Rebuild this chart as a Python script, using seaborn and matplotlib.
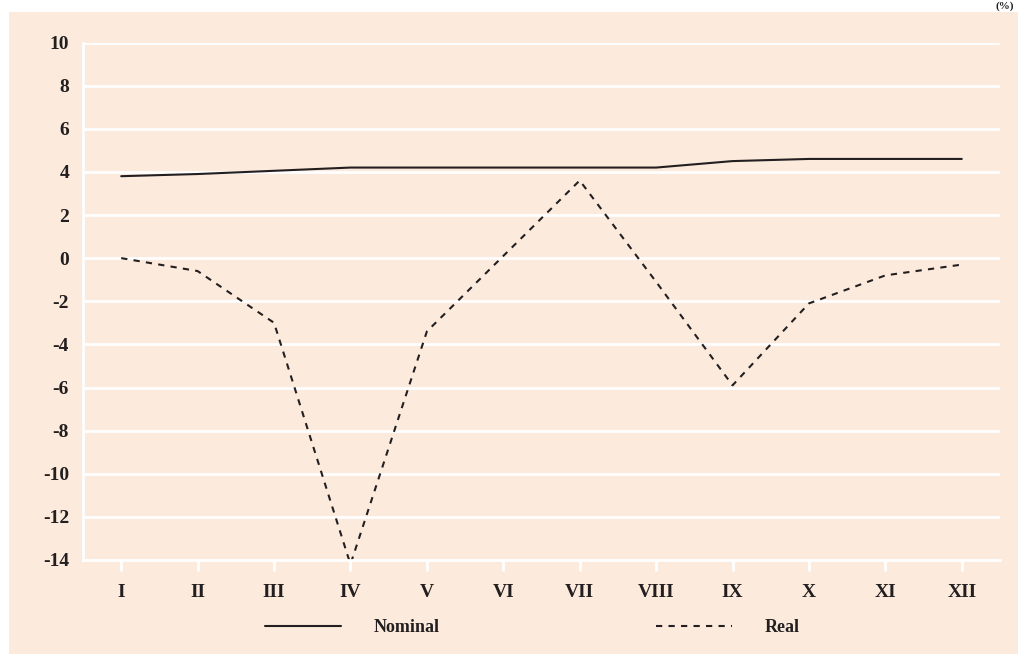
import numpy as np
import pandas as pd
import matplotlib
matplotlib.use("Agg")
import matplotlib.pyplot as plt
from matplotlib.patches import Rectangle
from matplotlib.lines import Line2D
import seaborn as sns

months = ["I", "II", "III", "IV", "V", "VI", "VII", "VIII", "IX", "X", "XI", "XII"]
nominal = [3.8, 3.9, 4.05, 4.2, 4.2, 4.2, 4.2, 4.2, 4.5, 4.6, 4.6, 4.6]
real = [0.0, -0.6, -3.0, -14.2, -3.4, 0.1, 3.6, -1.1, -5.9, -2.1, -0.8, -0.3]
y_ticks = [10, 8, 6, 4, 2, 0, -2, -4, -6, -8, -10, -12, -14]

BG = "#FCEBDD"
INK = "#231F20"

df = pd.DataFrame({
    "pos": list(range(len(months))) * 2,
    "value": nominal + real,
    "series": ["Nominal"] * len(months) + ["Real"] * len(months),
})

sns.set_theme(style="white")
plt.rcParams["font.family"] = ["Liberation Serif", "DejaVu Serif"]
plt.rcParams["font.weight"] = "bold"

fig = plt.figure(figsize=(10.18, 6.54), dpi=100)
fig.patch.set_facecolor("white")
fig.add_artist(Rectangle((9 / 1018, 0), 1 - 9 / 1018, 1 - 12 / 654,
                         transform=fig.transFigure, facecolor=BG,
                         edgecolor="none", zorder=0))

ax = fig.add_axes([83 / 1018, 1 - 560 / 654, (1000 - 83) / 1018, (560 - 42.5) / 654])
ax.set_facecolor(BG)

sns.lineplot(data=df, x="pos", y="value", style="series",
             dashes={"Nominal": "", "Real": (3, 3)},
             color=INK, linewidth=1.5, ax=ax, legend=False)

ax.set_xlim(-0.5, 11.5)
ax.set_ylim(-14, 10)
ax.set_yticks(y_ticks)
ax.set_yticklabels([str(v) for v in y_ticks])
ax.set_xticks(range(len(months)))
ax.set_xticklabels(months)
ax.set_xlabel("")
ax.set_ylabel("")

ax.grid(axis="y", color="white", linewidth=2)
ax.grid(axis="x", visible=False)
ax.set_axisbelow(True)
for side in ["top", "right"]:
    ax.spines[side].set_visible(False)
for side in ["left", "bottom"]:
    ax.spines[side].set_color("white")
    ax.spines[side].set_linewidth(2)

ax.tick_params(axis="x", direction="out", length=8, width=2, color="white",
               pad=9, labelsize=14, labelcolor=INK, bottom=True)
ax.tick_params(axis="y", length=0, pad=10, labelsize=14, labelcolor=INK)
for lab in ax.get_xticklabels() + ax.get_yticklabels():
    lab.set_fontweight("bold")

handles = [
    Line2D([], [], color=INK, linewidth=1.5, linestyle="-"),
    Line2D([], [], color=INK, linewidth=1.5, linestyle=(0, (3, 3))),
]
leg = fig.legend(handles, ["Nominal", "Real"], loc="center",
                 bbox_to_anchor=(532 / 1018, 1 - 628 / 654), ncol=2, frameon=False,
                 handlelength=4.2, handletextpad=1.8, columnspacing=12,
                 prop={"family": "Liberation Serif", "weight": "bold", "size": 13})
for t in leg.get_texts():
    t.set_color(INK)

fig.text(1 - 4 / 1018, 1 - 1 / 654, "(%)", ha="right", va="top", fontsize=8,
         fontweight="bold", color=INK)

fig.savefig("out.png", dpi=100, facecolor=fig.get_facecolor())
